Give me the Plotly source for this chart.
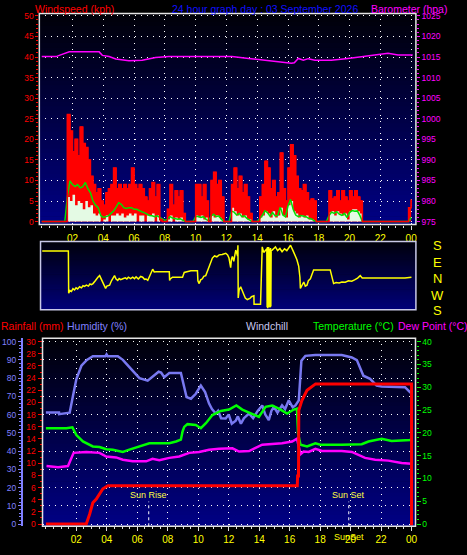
import plotly.graph_objects as go

W, H = 467, 555
FONT = "Liberation Sans"


def fx(px):
    return px / W


def fy(py):
    return 1 - py / H


# ---------------- data ----------------
# wind: 10-minute samples from 00:00 to 24:00 (145 samples)
wind_t = [i / 6 for i in range(145)]
gust = [0, 0, 0, 0, 0, 0, 0, 0, 0, 0,
        26, 22, 17, 20, 16, 23, 19, 18, 15, 11, 9, 7, 8, 5, 4, 7, 8, 9, 13, 8,
        9, 8, 9, 8, 9, 13, 9, 8, 9, 8, 6, 5, 8, 9.5, 6, 9, 0.5, 0, 0, 3,
        9, 4, 7.5, 6, 7.5, 2,
        0, 0, 0, 0,
        9, 9, 6, 9, 5, 0, 10, 12, 9, 10, 6, 0, 0, 0, 9, 13, 8, 11, 7, 9,
        6, 2, 0, 0, 0, 6, 9, 14.7, 13, 8, 10, 6, 7, 16.7, 8, 5, 13, 18.7, 16, 11,
        8, 7.5, 9, 7, 5, 5.5, 5,
        0, 0, 0, 0, 0,
        7.5, 5.5, 6, 7.5, 5, 7.5, 6, 5, 7.5, 6, 7.5, 6, 5,
        0, 0, 0, 0, 0, 0, 0, 0, 0, 0, 0, 0, 0, 0, 0, 0, 0, 0,
        3.4, 5.4]
speed = [0, 0, 0, 0, 0, 0, 0, 0, 0, 0,
         6, 5, 6.5, 4, 5, 4.5, 3, 5, 3.5, 4, 2, 1.5, 2, 0, 0.5, 1.5, 0, 1.5, 1.5, 2,
         1.5, 2, 1, 1.5, 2, 1.5, 2, 0, 1.5, 1.5, 0, 1.5, 1.5, 2, 0, 1.5, 0, 0, 0, 0.5,
         1.5, 0, 1, 0.5, 1,
         0, 0, 0, 0, 0,
         1.5, 1, 1.5, 0.5, 1, 0, 1.5, 1, 1.5, 1, 0.5,
         0, 0, 0,
         3.4, 2.5, 1.5, 2, 1, 1.5, 0.5, 0.5,
         0, 0, 0,
         1, 1.5, 2.5, 2, 1, 2.5, 1, 1.5, 3.4, 1.5, 1, 4, 5, 2.5, 2, 1, 1.5, 1, 1.5, 0.5, 0.5,
         0, 0, 0, 0, 0, 0,
         2.2, 2.5, 1.5, 2.5, 2, 1.5, 2, 0.5, 2.5, 3, 3, 2.5, 2,
         0, 0, 0, 0, 0, 0, 0, 0, 0, 0, 0, 0, 0, 0, 0, 0, 0, 0, 0,
         1.5]
avg_speed = [0, 0, 0, 0, 0, 0, 0, 0, 0, 0,
             6,
             9.9, 9, 8.5, 9, 8.2, 8.5, 9.5, 8, 7, 5, 4, 3.4, 1.5, 1, 1.2, 1.4, 2, 2.6, 3.5,
             4.6, 4.2, 3.4, 3.2, 3.4, 3.4, 3, 3, 2.6, 2.4, 2.2, 1.8, 1.5, 1.4, 1.2, 1.4, 1, 0.5, 0.3, 0.6,
             1.2, 0.9, 0.8, 0.6, 0.7, 0.4,
             0, 0, 0, 0,
             1.2, 1.3, 1, 1.2, 0.6, 0.2, 1.3, 1.8, 1.2, 1.4, 0.6,
             0, 0, 0,
             2.5, 2.3, 1.6, 2, 1.2, 1.4, 0.8, 0.4,
             0, 0, 0,
             0.8, 1.5, 2.6, 2.2, 1.3, 2.2, 1.4, 1.5, 3.5, 1.6, 1.2, 3.8, 5.4, 3, 1.6, 1.2, 1.5, 1.4, 1.2, 0.8, 0.7, 0.3,
             0, 0, 0, 0, 0,
             1.5, 2.3, 2, 2.4, 1.8, 1.5, 2, 1, 2.2, 2.7, 2.5, 2.6, 1.5,
             0, 0, 0, 0, 0, 0, 0, 0, 0, 0, 0, 0, 0, 0, 0, 0, 0, 0, 0,
             1]

baro_t = [0.0, 0.93, 1.14, 1.79, 2.43, 3.73, 3.94, 4.38, 4.81, 5.67, 6.53, 7.4, 8.26, 12.36, 13.44,
          14.52, 15.38, 16.22, 16.41, 16.67, 17.0, 17.32, 17.75, 18.81, 19.9, 20.99, 22.07, 22.5, 23.15, 24.1]
baro = [1015.1, 1015.1, 1015.4, 1016.25, 1016.3, 1016.25, 1015.4, 1015.1, 1014.5, 1014.1, 1014.2, 1014.9,
        1015.1, 1015.1, 1014.65, 1014.2, 1013.9, 1013.5, 1013.6, 1014.65, 1014.2, 1014.6, 1014.2, 1014.2,
        1014.65, 1015.1, 1015.7, 1015.9, 1015.5, 1015.5]

# wind direction, degrees (N = 0, E = 90, S = +/-180, W = -90)
dir_t = [0.0, 1.70, 1.72, 1.8, 1.9, 2.0, 2.1, 2.2, 2.3, 2.43, 2.55, 2.65, 2.75, 2.87, 3.0, 3.1, 3.2, 3.3,
         3.45, 3.55, 3.62, 3.73, 3.8, 3.94, 4.05, 4.12, 4.2, 4.38, 4.5, 4.6, 4.7, 4.8, 4.91, 5.0, 5.1, 5.24,
         5.4, 5.5, 5.6, 5.75, 5.88, 6.0, 6.1, 6.25, 6.4, 6.53, 6.65, 6.75, 6.86, 6.95, 7.05, 7.18, 7.28, 7.4,
         8.26, 8.28, 8.32, 8.47, 9.12, 9.23, 9.66, 10.09, 10.12, 10.2, 10.3, 10.41, 10.5, 10.63, 10.75, 10.85,
         10.95, 11.06, 11.2, 11.35, 11.5, 11.7, 11.93, 12.05, 12.14, 12.2, 12.25, 12.3, 12.36, 12.45, 12.58,
         12.7, 12.72, 12.74, 12.8, 12.9, 13.0, 13.11, 13.2, 13.33, 13.5, 13.6, 13.76, 13.77, 14.19, 14.3,
         14.4, 14.52, 14.6, 14.62, 14.64, 14.66, 14.68, 14.7, 14.72, 14.74, 14.76, 14.78, 14.8, 14.82, 14.84,
         14.86, 14.88, 14.95, 15.05, 15.16, 15.3, 15.45, 15.59, 15.75, 15.9, 16.0, 16.14, 16.3, 16.46, 16.55,
         16.67, 16.75, 16.78, 16.9, 17.0, 17.1, 17.21, 17.3, 17.43, 17.55, 17.64, 18.72, 18.82, 18.94, 19.1,
         19.3, 19.48, 19.7, 19.9, 20.12, 20.3, 20.5, 20.67, 20.8, 22.5, 22.55, 22.6, 23.58, 24.0]
direction = [148, 148, -90, -75, -80, -65, -72, -60, -66, -54, -60, -48, -52, -45, -50, -38, -42, -36,
             -20, -5, 0, 9, -5, -27, -45, -63, -50, -45, -20, -5, 9, -10, -18, -8, -14, -9,
             -4, -10, 0, -8, 0, -8, 2, -10, 4, 0, -12, -10, -18, 0, 20, 45, 30, 31,
             31, -18, -10, 0, 0, 27, 36, 36, -20, -36, -15, -9, 5, 9, 40, 63,
             90, 108, 120, 115, 126, 128, 135, 125, 108, 80, 54, 100, 117, 90, 153,
             120, 180, -117, -70, -54, -80, -99, -118, -126, -120, -110, -105, -153, -153, 171,
             140, 153, 160, -170, 170, -175, 165, -165, 170, -170, 160, -160, 155, -170, 165,
             -165, 150, 153, 160, 171, 150, 162, 144, 160, 150, 165, 180, 150, 117, 100,
             63, 0, -63, -40, -27, -50, -45, -20, -9, 20, 41, 41, 0, -36, -30,
             -33, -27, -28, -20, -23, -15, -5, 9, -5, -5, -3, -5, -5, 0]
dir_labels = ["S", "E", "N", "W", "S"]

hum_t = [0.0, 0.86, 0.87, 1.56, 1.74, 2.0, 2.33, 2.69, 3.08, 3.9, 3.98, 4.05, 4.72, 5.05, 5.48, 5.81, 6.14,
         6.68, 7.0, 7.4, 7.56, 7.77, 8.1, 8.86, 9.08, 9.23, 9.52, 9.84, 10.17, 10.45, 10.71, 10.9, 11.15,
         11.3, 11.5, 11.8, 12.0, 12.2, 12.46, 12.6, 12.8, 13.0, 13.33, 13.6, 13.9, 14.2, 14.4, 14.63, 14.8,
         14.96, 15.2, 15.5, 15.7, 15.94, 16.2, 16.38, 16.6, 16.77, 17.03, 17.69, 19.42, 20.08, 20.41, 20.63,
         20.84, 21.28, 21.71, 22.04, 23.13, 23.57, 23.9, 24.0]
humidity = [61.1, 61.1, 60.2, 61, 68.7, 79.5, 86.8, 90, 92, 92, 93, 92, 92, 90, 86, 83, 80,
            78.6, 80.6, 83.5, 83, 80.5, 82.8, 82.8, 75, 69.6, 68.7, 71.4, 75.9, 72.3, 66, 63, 60.6,
            62, 58, 57.9, 60, 55, 56.6, 59, 55, 58, 60.6, 58, 62, 65, 60, 57, 62,
            64.2, 61, 65, 63, 67.8, 64, 65, 67.8, 89.5, 92.2, 92.7, 92.7, 91.3, 89.9, 85.9,
            81.3, 79.6, 75.9, 75.4, 75.4, 75, 72.3, 72.3]

temp_t = [0.0, 1.35, 1.74, 2.0, 2.43, 3.08, 3.52, 3.96, 4.39, 5.05, 5.48, 6.14, 6.79, 7.44, 8.1, 8.54,
          8.86, 8.97, 9.08, 9.29, 9.84, 10.17, 10.5, 10.93, 11.48, 12.02, 12.5, 12.89, 13.44, 13.98, 14.42,
          14.85, 15.29, 15.83, 16.27, 16.48, 16.55, 16.71, 17.14, 17.69, 18.01, 19.32, 19.42, 20.73, 21.17,
          22.04, 22.69, 23.9, 24.0]
temperature = [21, 21, 21.2, 19.5, 18.1, 17, 16.9, 16.4, 16.3, 15.8, 16.3, 17, 17.7, 17.7, 17.7, 18.1,
               18.5, 20.3, 21.3, 21.9, 21.7, 21, 22.1, 23.9, 24.8, 25.1, 26, 25.1, 24.2, 23.5, 25.7,
               26, 25.3, 24.2, 25.1, 25.3, 19.9, 17.4, 17, 17.7, 17.4, 17.3, 17.4, 17.5, 18.1,
               18.7, 18.2, 18.4, 18.7]

dew_t = [0.04, 0.8, 1.45, 1.67, 1.82, 2.65, 3.52, 3.96, 4.61, 5.05, 5.7, 6.58, 7.0, 7.44, 8.1, 8.75, 9.41,
         10.06, 10.71, 11.37, 12.24, 12.68, 13.34, 14.2, 14.85, 15.5, 16.16, 16.48, 16.71, 16.92, 17.25,
         17.69, 18.12, 19.42, 20.08, 20.52, 20.95, 21.61, 22.48, 23.35, 24.0]
dew_point = [12.7, 12.45, 12.7, 14.5, 15.6, 15.8, 15.6, 14.8, 14.6, 14.1, 13.75, 13.75, 14.3, 14, 14.5,
             14.8, 15.6, 15.8, 16.3, 16.5, 16.6, 15.9, 16, 17.4, 17.5, 17.7, 18.1, 18.7, 15.3, 15.9,
             15.8, 16.5, 16, 16, 15.8, 15.2, 14.5, 14.1, 13.9, 13.4, 13.2]

rain_t = [0.0, 2.65, 2.87, 3.08, 3.31, 3.52, 3.74, 4.07, 16.5, 16.52, 16.58, 16.6, 16.8, 17.14, 17.57, 17.7,
          24.0, 24.0, 24.1]
rainfall = [0, 0, 1.6, 3.5, 4.1, 4.9, 5.8, 6.3, 6.3, 7.9, 7.9, 18.7, 20.3, 22.0, 22.9, 23.05, 23.05, 0, 0]

sun_rise = 6.75
sun_set = 19.88

hour_ticks = [2, 4, 6, 8, 10, 12, 14, 16, 18, 20, 22, 24]
hour_labels = ["02", "04", "06", "08", "10", "12", "14", "16", "18", "20", "22", "00"]

# ---------------- figure ----------------
fig = go.Figure()

# panel 1 : wind + barometer
fig.add_trace(go.Scatter(x=wind_t, y=gust, mode="lines", xaxis="x", yaxis="y",
                         line=dict(color="#ff0000", width=1, shape="hv"),
                         fill="tozeroy", fillcolor="#ff0000", hoverinfo="skip"))
fig.add_trace(go.Scatter(x=wind_t, y=speed, mode="lines", xaxis="x", yaxis="y",
                         line=dict(color="#e4fae4", width=0, shape="hv"),
                         fill="tozeroy", fillcolor="#e4fae4", hoverinfo="skip"))
fig.add_trace(go.Scatter(x=wind_t, y=avg_speed, mode="lines", xaxis="x", yaxis="y",
                         line=dict(color="#00e000", width=1.5), hoverinfo="skip"))
fig.add_trace(go.Scatter(x=wind_t, y=gust, mode="lines", xaxis="x", yaxis="y",
                         line=dict(color="#ff0000", width=1.5, shape="hv"), hoverinfo="skip"))
fig.add_trace(go.Scatter(x=baro_t, y=baro, mode="lines", xaxis="x", yaxis="y2",
                         line=dict(color="#ff00ff", width=1.5), hoverinfo="skip"))

# panel 2 : wind direction
fig.add_trace(go.Scatter(x=dir_t, y=direction, mode="lines", xaxis="x2", yaxis="y3",
                         line=dict(color="#ffff00", width=1.5), hoverinfo="skip"))

# panel 3 : humidity (y4), temperature/dew point (y5), rainfall (y6)
fig.add_trace(go.Scatter(x=hum_t, y=humidity, mode="lines", xaxis="x3", yaxis="y4",
                         line=dict(color="#7878f0", width=2.5), hoverinfo="skip"))
fig.add_trace(go.Scatter(x=dew_t, y=dew_point, mode="lines", xaxis="x3", yaxis="y5",
                         line=dict(color="#ff00ff", width=2.5), hoverinfo="skip"))
fig.add_trace(go.Scatter(x=temp_t, y=temperature, mode="lines", xaxis="x3", yaxis="y5",
                         line=dict(color="#00ff00", width=2.5), hoverinfo="skip"))
fig.add_trace(go.Scatter(x=rain_t, y=rainfall, mode="lines", xaxis="x3", yaxis="y6",
                         line=dict(color="#ff0000", width=3), hoverinfo="skip"))

# ---------------- shapes ----------------
shapes = []


def gradient(x0, x1, y0, y1, top=(0, 0, 8), bot=(0, 0, 132), n=50):
    out = []
    for k in range(n):
        t = k / (n - 1)
        c = tuple(round(top[j] + (bot[j] - top[j]) * t) for j in range(3))
        ya = y0 + (y1 - y0) * k / n
        yb = min(y0 + (y1 - y0) * (k + 1) / n + 0.7, y1)
        out.append(dict(type="rect", xref="paper", yref="paper", x0=fx(x0), x1=fx(x1),
                        y0=fy(yb), y1=fy(ya), fillcolor="rgb(%d,%d,%d)" % c,
                        line=dict(width=0), layer="below"))
    return out


P1 = (39.5, 417.7, 10.5, 224.0)
P2 = (40.7, 417.7, 241.0, 310.0)
P3 = (42.7, 417.3, 339.0, 529.0)

shapes += gradient(*P1)
shapes += gradient(*P2, top=(0, 0, 12), bot=(0, 0, 120))
shapes += gradient(*P3)

for (x0, x1, y0, y1), col in ((P1, "#e4e4e4"), (P2, "#c8c8e8"), (P3, "#e4e4e4")):
    shapes.append(dict(type="rect", xref="paper", yref="paper", x0=fx(x0), x1=fx(x1),
                       y0=fy(y1), y1=fy(y0), line=dict(color=col, width=1.5),
                       fillcolor="rgba(0,0,0,0)", layer="above"))

for t in (sun_rise, sun_set):
    shapes.append(dict(type="line", xref="x3", yref="paper", x0=t, x1=t, y0=fy(529), y1=fy(504),
                       line=dict(color="#ffffff", width=1, dash="dot"), layer="above"))

# ---------------- annotations ----------------
ann = []


def text(x, y, s, color, size=10.5, anchor="left", xref="paper"):
    ann.append(dict(x=(x if xref != "paper" else fx(x)), y=fy(y), xref=xref, yref="paper", text=s,
                    showarrow=False, xanchor=anchor, yanchor="middle",
                    font=dict(family=FONT, size=size, color=color)))


text(33, 6, "Windspeed (kph)", "#ff0000")
text(171, 6, "24 hour graph day : 03 September 2026", "#1010ff")
text(371, 6, "Barometer (hpa)", "#ff00ff")
text(-1, 327, "Rainfall (mm)", "#ff0000")
text(65, 327, "Humidity (%)", "#8080ff")
text(245, 327, "Windchill", "#c8c8f0")
text(312, 327, "Temperature (°C)", "#00ff00")
text(398, 327, "Dew Point (°C)", "#ff00ff")
for lab, yy in zip(dir_labels, [245, 262, 279, 296, 311]):
    text(439.5, yy, lab, "#ffff00", size=13, anchor="center")
text(sun_rise, 497.5, "Sun Rise", "#ffff40", size=9, anchor="center", xref="x3")
text(sun_set, 497.5, "Sun Set", "#ffff40", size=9, anchor="center", xref="x3")
text(sun_set, 540, "SunSet", "#ffff00", size=9, anchor="center", xref="x3")

# ---------------- axes ----------------
GRID = dict(showgrid=True, gridcolor="#ffffff", gridwidth=1, griddash="1px,5px")


def xaxis_common():
    return dict(tickmode="array", tickvals=hour_ticks, ticktext=hour_labels,
                tickfont=dict(family=FONT, size=10, color="#ffff00"),
                ticks="outside", ticklen=4, tickcolor="#e0e0e0", tickwidth=1,
                minor=dict(tick0=0, dtick=0.5, ticks="outside", ticklen=2, tickcolor="#e0e0e0"),
                showline=False, zeroline=False, **GRID)


def yaxis_common(color, size=8.5, ticklen=3, minor_dtick=1):
    return dict(tickfont=dict(family=FONT, size=size, color=color), ticks="outside",
                ticklen=ticklen, tickcolor=color, tickwidth=1,
                minor=dict(dtick=minor_dtick, ticks="outside", ticklen=2, tickcolor=color),
                zeroline=False)


fig.update_layout(
    width=W, height=H,
    margin=dict(l=0, r=0, t=0, b=0),
    paper_bgcolor="#000000", plot_bgcolor="rgba(0,0,0,0)",
    showlegend=False,
    font=dict(family=FONT),
    xaxis=dict(domain=[fx(P1[0]), fx(P1[1])], range=[-0.155, 24.31], anchor="y", **xaxis_common()),
    yaxis=dict(domain=[fy(P1[3]), fy(P1[2])], range=[-0.72, 50.6], anchor="x",
               tickmode="linear", tick0=0, dtick=5, showline=False, **GRID,
               **yaxis_common("#ff0000")),
    yaxis2=dict(overlaying="y", side="right", anchor="x", range=[974.28, 1025.6],
                tickmode="linear", tick0=975, dtick=5, showgrid=False, showline=False,
                **yaxis_common("#ff00ff")),
    xaxis2=dict(domain=[fx(P2[0]), fx(P2[1])], range=[-0.11, 24.29], anchor="y3", visible=False),
    yaxis3=dict(domain=[fy(P2[3]), fy(P2[2])], range=[-183, 202], anchor="x2", visible=False),
    xaxis3=dict(domain=[fx(P3[0]), fx(P3[1])], range=[-0.222, 24.26], anchor="y4", **xaxis_common()),
    yaxis4=dict(domain=[fy(P3[3]), fy(P3[2])], range=[-1.25, 101.8], anchor="free", position=fx(22),
                side="left", tickmode="linear", tick0=0, dtick=10,
                showline=True, linecolor="#8080ff", linewidth=2, **GRID,
                **yaxis_common("#8080ff", minor_dtick=2)),
    yaxis5=dict(overlaying="y4", side="right", anchor="x3", range=[-0.5, 40.72],
                tickmode="linear", tick0=0, dtick=5, showgrid=False, showline=False,
                **yaxis_common("#00ff00", ticklen=4)),
    yaxis6=dict(overlaying="y4", side="left", anchor="x3", range=[-0.375, 30.54],
                tickmode="linear", tick0=0, dtick=2, showgrid=False, showline=False,
                **yaxis_common("#ff0000", ticklen=4)),
    shapes=shapes,
    annotations=ann,
)

fig.write_html(
    "out.html",
    config={"displayModeBar": False, "staticPlot": True},
    post_script="document.body.style.margin='0';document.body.style.padding='0';"
                "document.body.style.overflow='hidden';document.body.style.background='#000';",
)
